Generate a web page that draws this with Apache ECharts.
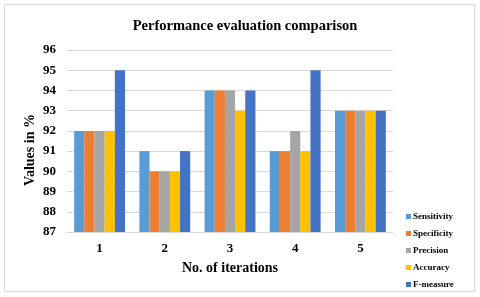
<!DOCTYPE html>
<html><head><meta charset="utf-8">
<script src="https://cdn.jsdelivr.net/npm/echarts@6/dist/echarts.min.js"></script>
<style>html,body{margin:0;padding:0;background:#fff}#c{width:480px;height:297px}</style>
</head><body><div id="c"></div>
<script>
var categories = ['1','2','3','4','5'];
var seriesNames = ['Sensitivity','Specificity','Precision','Accuracy','F-measure'];
var sensitivity = [92,91,94,91,93];
var specificity = [92,90,94,91,93];
var precision = [92,90,94,92,93];
var accuracy = [92,90,93,91,93];
var fmeasure = [95,91,94,95,93];
var colors = ['#5B9BD5','#ED7D31','#A5A5A5','#FFC000','#4472C4'];
var values = [sensitivity, specificity, precision, accuracy, fmeasure];
var font = '"Liberation Serif","Times New Roman",serif';
var chart = echarts.init(document.getElementById('c'));
chart.setOption({
  animation:false,
  color: colors,
  title:{text:'Performance evaluation comparison',left:240,textAlign:'center',top:14,
    textStyle:{fontFamily:font,fontWeight:'bold',fontSize:14.5,color:'#000'}},
  graphic:[{type:'rect',shape:{x:4.5,y:4.5,width:470,height:287},style:{fill:'none',stroke:'#D9D9D9',lineWidth:1}}],
  legend:{orient:'vertical',left:406,top:211,padding:0,itemWidth:5,itemHeight:5,itemGap:6,icon:'rect',
    data:seriesNames,
    textStyle:{fontFamily:font,fontWeight:'bold',fontSize:9,lineHeight:11,color:'#000',padding:[0,0,0,-3]}},
  grid:{left:67,right:87,top:50,bottom:65},
  xAxis:{type:'category',data:categories,
    name:'No. of iterations',nameLocation:'middle',nameGap:29,nameMoveOverlap:false,
    nameTextStyle:{fontFamily:font,fontWeight:'bold',fontSize:14,color:'#000'},
    axisLine:{lineStyle:{color:'#D9D9D9'}},axisTick:{show:false},
    axisLabel:{fontFamily:font,fontWeight:'bold',fontSize:13,color:'#000',margin:10}},
  yAxis:{type:'value',min:87,max:96,interval:1,
    name:'Values in %',nameLocation:'middle',nameGap:30,nameMoveOverlap:false,
    nameTextStyle:{fontFamily:font,fontWeight:'bold',fontSize:14,color:'#000',padding:[0,18,0,0]},
    axisLine:{show:false},axisTick:{show:false},
    splitLine:{lineStyle:{color:'#D9D9D9'}},
    axisLabel:{fontFamily:font,fontWeight:'bold',fontSize:13,color:'#000',margin:11}},
  series: seriesNames.map(function(n,i){
    return {name:n,type:'bar',data:values[i],barGap:'0%',barCategoryGap:'22%',
      itemStyle:{color:colors[i]}};
  })
});
</script></body></html>
